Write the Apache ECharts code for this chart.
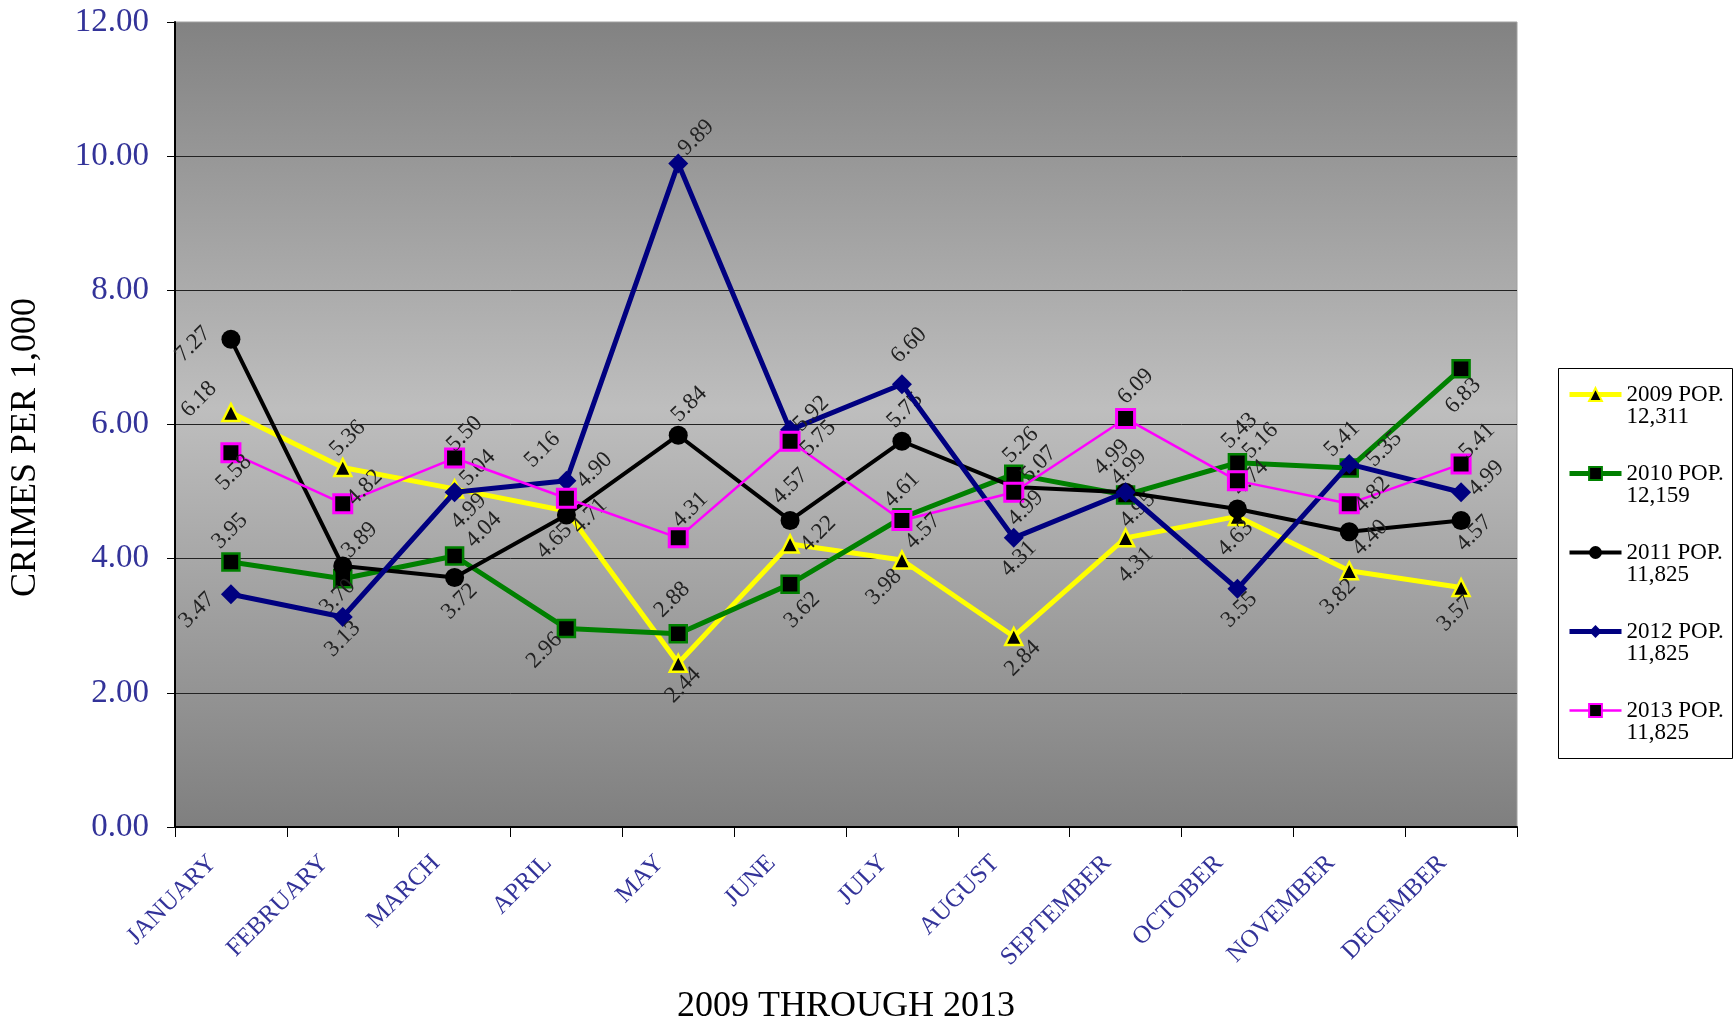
<!DOCTYPE html>
<html><head><meta charset="utf-8">
<script src="https://cdn.jsdelivr.net/npm/echarts@6/dist/echarts.min.js"></script>
<style>html,body{margin:0;padding:0;background:#fff}#c{width:1733px;height:1022px}</style>
</head><body><div id="c"></div>
<script>
// ---- data ----
const categories = ['JANUARY','FEBRUARY','MARCH','APRIL','MAY','JUNE','JULY','AUGUST','SEPTEMBER','OCTOBER','NOVEMBER','DECEMBER'];
const seriesNames = ['2009 POP.\n12,311','2010 POP.\n12,159','2011 POP.\n11,825','2012 POP.\n11,825','2013 POP.\n11,825'];
const rate2009 = [6.18,5.36,5.04,4.71,2.44,4.22,3.98,2.84,4.31,4.63,3.82,3.57];
const rate2010 = [3.95,3.70,4.04,2.96,2.88,3.62,4.61,5.26,4.95,5.43,5.35,6.83];
const rate2011 = [7.27,3.89,3.72,4.65,5.84,4.57,5.75,5.07,4.99,4.74,4.40,4.57];
const rate2012 = [3.47,3.13,4.99,5.16,9.89,5.92,6.60,4.31,4.99,3.55,5.41,4.99];
const rate2013 = [5.58,4.82,5.50,4.90,4.31,5.75,4.57,4.99,6.09,5.16,4.82,5.41];
const yMin = 0, yMax = 12, yStep = 2;
const xAxisTitle = '2009 THROUGH 2013';
const yAxisTitle = 'CRIMES PER 1,000';

// ---- styling / label placement (screen px nudges of each label centre) ----
const LABEL_ROT = 45;
const nudges = [
  [[-32,-13],[5,-29],[23,-21],[23,5],[5,22],[28,-10],[-18,27],[9,22],[10,27],[-2,22],[-11,26],[-6,26]],
  [[-1,-31],[-5,18],[29,-26],[-22,22],[-6,-34],[12,26],[0,-28],[7,-29],[12,15],[2,-32],[35,-19],[2,27]],
  [[-38,5],[17,-26],[5,24],[-12,26],[11,-31],[0,-34],[3,-31],[25,-23],[-14,-35],[13,-31],[21,6],[13,13]],
  [[-34,16],[0,22],[14,19],[-24,-31],[18,-26],[21,-16],[7,-39],[5,21],[3,-25],[2,21],[-7,-25],[25,-14]],
  [[3,20],[22,-16],[10,-24],[28,-28],[12,-28],[28,-3],[21,11],[12,16],[10,-32],[23,-40],[23,-9],[16,-23]]
];
const styles = [
  {color:'#FFFF00', width:5, symbol:'triangle', size:17, fill:'#000', border:'#FFFF00', bw:2.5},
  {color:'#008000', width:5, symbol:'rect', size:17, fill:'#000', border:'#008000', bw:2.5},
  {color:'#000000', width:4, symbol:'circle', size:19, fill:'#000', border:'#000', bw:0},
  {color:'#000080', width:5, symbol:'diamond', size:20, fill:'#000080', border:'#000080', bw:0},
  {color:'#FF00FF', width:2.5, symbol:'rect', size:18, fill:'#000', border:'#FF00FF', bw:3}
];
const allRates = [rate2009, rate2010, rate2011, rate2012, rate2013];

function toLocal(d){
  const t = LABEL_ROT*Math.PI/180, c = Math.cos(t), s = Math.sin(t);
  return [d[0]*c - d[1]*s, d[0]*s + d[1]*c];
}

const series = allRates.map((arr, si) => {
  const st = styles[si];
  return {
    name: seriesNames[si],
    type: 'line',
    data: arr.map((v, i) => ({value: v, label: {offset: toLocal(nudges[si][i])}})),
    symbol: st.symbol,
    symbolSize: st.size,
    lineStyle: {color: st.color, width: st.width},
    itemStyle: {color: st.fill, borderColor: st.border, borderWidth: st.bw},
    color: st.color,
    z: 3 + si,
    label: {
      show: true, position: 'inside', rotate: LABEL_ROT,
      align: 'center', verticalAlign: 'middle',
      fontFamily: 'Liberation Serif', fontSize: 23, color: '#222',
      formatter: p => p.value.toFixed(2)
    },
    emphasis: {disabled: true},
    animation: false
  };
});

const chart = echarts.init(document.getElementById('c'), null, {renderer: 'canvas'});
chart.setOption({
  backgroundColor: '#ffffff',
  animation: false,
  grid: {
    left: 175, right: 216, top: 22, bottom: 195, show: true,
    containLabel: false, outerBoundsMode: 'none',
    borderWidth: 1, borderColor: '#a0a0a0',
    backgroundColor: {type:'linear', x:0, y:0, x2:0, y2:1, colorStops:[
      {offset:0, color:'#828282'}, {offset:0.48, color:'#bebebe'}, {offset:1, color:'#7f7f7f'}]}
  },
  graphic: [{
    type: 'rect', left: 1558, top: 368, z: 0,
    shape: {width: 174, height: 390},
    style: {fill: '#fff', stroke: '#000', lineWidth: 1}
  }],
  legend: {
    orient: 'vertical', left: 1567, top: 361, z: 10,
    padding: 0, itemGap: 12, itemWidth: 52, itemHeight: 16,
    data: seriesNames.map((n, i) => ({name: n, lineStyle: {width: styles[i].width}})),
    formatter: n => '\n' + n,
    textStyle: {fontFamily: 'Liberation Serif', fontSize: 23, color: '#000', lineHeight: 22},
    selectedMode: false
  },
  xAxis: {
    type: 'category', data: categories, boundaryGap: true,
    axisLine: {lineStyle: {color: '#000', width: 2}},
    axisTick: {show: true, length: 10, lineStyle: {color: '#000', width: 1}},
    axisLabel: {rotate: 45, margin: 14, padding: [0, 26, 0, 0], fontFamily: 'Liberation Serif', fontSize: 25, color: '#333399', interval: 0},
    name: xAxisTitle, nameLocation: 'middle', nameGap: 162,
    nameTextStyle: {fontFamily: 'Liberation Serif', fontSize: 36, color: '#000'}
  },
  yAxis: {
    type: 'value', min: yMin, max: yMax, interval: yStep,
    axisLine: {show: true, lineStyle: {color: '#000', width: 2}},
    axisTick: {show: true, length: 8, lineStyle: {color: '#000'}},
    axisLabel: {margin: 26, fontFamily: 'Liberation Serif', fontSize: 33, color: '#333399', formatter: v => v.toFixed(2)},
    splitLine: {show: true, lineStyle: {color: ['#222','#222','#222','#222','#222','#222','rgba(0,0,0,0)'], width: 1}},
    name: yAxisTitle, nameLocation: 'middle', nameRotate: 90, nameGap: 131,
    nameTextStyle: {fontFamily: 'Liberation Serif', fontSize: 36, color: '#000', padding: [0, 46, 0, 0]}
  },
  series: series
});
</script></body></html>
